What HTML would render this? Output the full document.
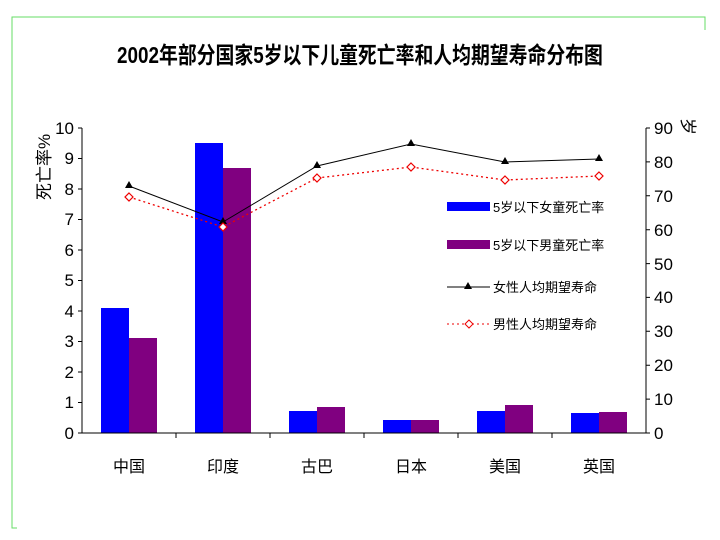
<!DOCTYPE html><html><head><meta charset="utf-8"><style>body{margin:0;background:#fff}svg{display:block}text{font-family:"Liberation Sans","Noto Sans CJK SC",sans-serif}</style></head><body>
<svg width="720" height="540" viewBox="0 0 720 540">
<path d="M17 528H12V17H705V30" fill="none" stroke="#6d6" stroke-width="1"/>
<text x="360" y="63" font-size="23" font-weight="bold" text-anchor="middle" transform="translate(360 0) scale(0.82 1) translate(-360 0)">2002年部分国家5岁以下儿童死亡率和人均期望寿命分布图</text>
<g font-size="17" fill="#000">
<text x="0" y="0" transform="translate(50 200) rotate(-90)">死亡率%</text>
<text x="0" y="0" transform="translate(682 118) rotate(90)">岁</text>
</g>
<g fill="#0000ff">
<rect x="101" y="308" width="28" height="125"/><rect x="195" y="143" width="28" height="290"/><rect x="289" y="411" width="28" height="22"/><rect x="383" y="420" width="28" height="13"/><rect x="477" y="411" width="28" height="22"/><rect x="571" y="413" width="28" height="20"/>
</g>
<g fill="#800080">
<rect x="129" y="338" width="28" height="95"/><rect x="223" y="168" width="28" height="265"/><rect x="317" y="407" width="28" height="26"/><rect x="411" y="420" width="28" height="13"/><rect x="505" y="405" width="28" height="28"/><rect x="599" y="412" width="28" height="21"/>
</g>
<g stroke="#000" stroke-width="1" fill="none">
<path d="M82 128V433H646V128"/>
<path d="M78 128H82M78 158.5H82M78 189H82M78 219.5H82M78 250H82M78 280.5H82M78 311H82M78 341.5H82M78 372H82M78 402.5H82M78 433H82"/>
<path d="M646 128H650M646 161.9H650M646 195.8H650M646 229.7H650M646 263.6H650M646 297.4H650M646 331.3H650M646 365.2H650M646 399.1H650M646 433H650"/>
<path d="M176 433V438M270 433V438M364 433V438M458 433V438M552 433V438"/>
<polyline points="129,186 223,222 317,166 411,144 505,162 599,159"/>
</g>
<polyline points="129,197 223,227 317,178 411,167 505,180 599,176" fill="none" stroke="#e00" stroke-width="1.3" stroke-dasharray="2,3"/>
<g fill="#000">
<path d="M129 181l4 7h-8z M223 217l4 7h-8z M317 161l4 7h-8z M411 139l4 7h-8z M505 157l4 7h-8z M599 154l4 7h-8z"/>
</g>
<g fill="#fff" stroke="#e00" stroke-width="1.2">
<path d="M129 193l4 4-4 4-4-4z M223 223l4 4-4 4-4-4z M317 174l4 4-4 4-4-4z M411 163l4 4-4 4-4-4z M505 176l4 4-4 4-4-4z M599 172l4 4-4 4-4-4z"/>
</g>
<g font-size="17" text-anchor="end">
<text x="74" y="134">10</text><text x="74" y="164">9</text><text x="74" y="195">8</text><text x="74" y="225">7</text><text x="74" y="256">6</text><text x="74" y="286">5</text><text x="74" y="317">4</text><text x="74" y="347">3</text><text x="74" y="378">2</text><text x="74" y="408">1</text><text x="74" y="439">0</text>
</g>
<g font-size="17">
<text x="654" y="134">90</text><text x="654" y="168">80</text><text x="654" y="202">70</text><text x="654" y="236">60</text><text x="654" y="270">50</text><text x="654" y="303">40</text><text x="654" y="337">30</text><text x="654" y="371">20</text><text x="654" y="405">10</text><text x="654" y="439">0</text>
</g>
<g font-size="16" text-anchor="middle">
<text x="129" y="472">中国</text><text x="223" y="472">印度</text><text x="317" y="472">古巴</text><text x="411" y="472">日本</text><text x="505" y="472">美国</text><text x="599" y="472">英国</text>
</g>
<rect x="447" y="202" width="43" height="9" fill="#0000ff"/>
<rect x="447" y="240" width="43" height="9" fill="#800080"/>
<path d="M447 287H490" stroke="#000"/><path d="M468 282l4 7h-8z"/>
<path d="M447 324H490" stroke="#e00" stroke-dasharray="2,3"/><path d="M469 320l4 4-4 4-4-4z" fill="#fff" stroke="#e00"/>
<g font-size="13">
<text x="493" y="212">5岁以下女童死亡率</text>
<text x="493" y="250">5岁以下男童死亡率</text>
<text x="493" y="292">女性人均期望寿命</text>
<text x="493" y="329">男性人均期望寿命</text>
</g>
</svg>
</body></html>
